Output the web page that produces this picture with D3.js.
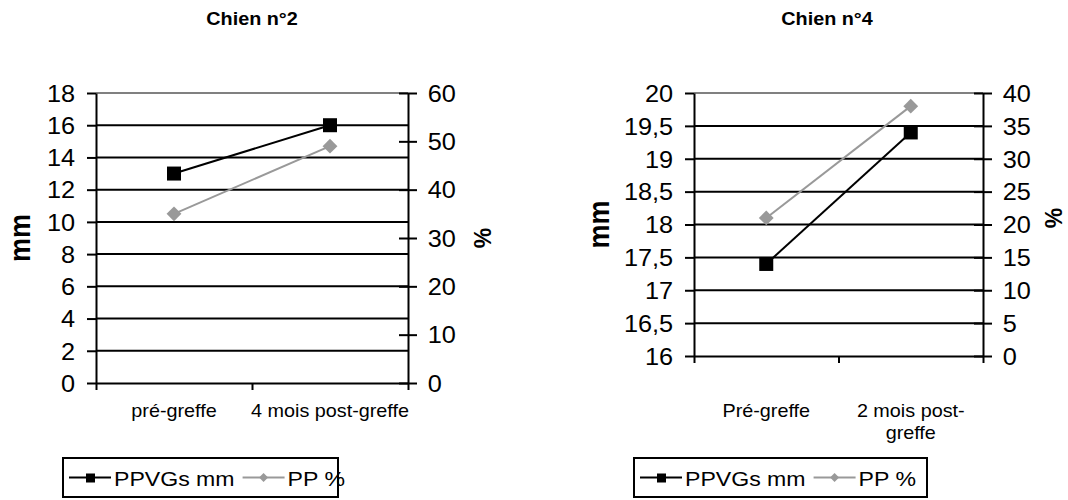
<!DOCTYPE html>
<html>
<head>
<meta charset="utf-8">
<script src="https://cdn.jsdelivr.net/npm/d3@7"></script>
<style>
  body { margin: 0; background: #fff; }
  svg { display: block; font-family: "Liberation Sans", Arial, sans-serif; }
</style>
</head>
<body>
<div id="chart"></div>
<script>
// data
const titles = ["Chien n°2", "Chien n°4"];
const seriesNames = ["PPVGs mm", "PP %"];

const cats2 = ["pré-greffe", "4 mois post-greffe"];
const ppvgs2 = [13, 16];
const pp2 = [35, 49];
const mmTicks2 = [0, 2, 4, 6, 8, 10, 12, 14, 16, 18];
const pctTicks2 = [0, 10, 20, 30, 40, 50, 60];

const cats4 = ["Pré-greffe", "2 mois post-greffe"];
const cats4Lines = [["Pré-greffe"], ["2 mois post-", "greffe"]];
const ppvgs4 = [17.4, 19.4];
const pp4 = [21, 38];
const mmTicks4 = [16, 16.5, 17, 17.5, 18, 18.5, 19, 19.5, 20];
const pctTicks4 = [0, 5, 10, 15, 20, 25, 30, 35, 40];

const SX = 1.1;           // text in the source is a bit stretched
const GRAY = "#999999";
const fmt = d => String(d).replace(".", ",");

const svg = d3.select("#chart").append("svg")
    .attr("width", 1068)
    .attr("height", 500);

function stretched(sel, x, y) {
    return sel.attr("transform", `translate(${x},${y}) scale(${SX},1)`);
}

function drawChart(cfg) {
    const g = svg.append("g");
    const { left, right, top, bottom } = cfg;

    const yL = d3.scaleLinear().domain(d3.extent(cfg.mmTicks)).range([bottom, top]);
    const yR = d3.scaleLinear().domain(d3.extent(cfg.pctTicks)).range([bottom, top]);
    const xBand = d3.scaleBand().domain(cfg.cats).range([left, right]);
    const xEdge = d3.scaleLinear().domain([0, cfg.cats.length]).range([left, right]);
    const xc = i => xBand(cfg.cats[i]) + xBand.bandwidth() / 2;

    // gridlines
    const lastTick = cfg.mmTicks[cfg.mmTicks.length - 1];
    g.append("g").selectAll("line")
        .data(cfg.mmTicks.slice(1))
        .join("line")
        .attr("x1", left).attr("x2", right)
        .attr("y1", d => yL(d)).attr("y2", d => yL(d))
        .attr("stroke", d => d === lastTick ? "#808080" : "#000")
        .attr("stroke-width", 2);

    // left axis
    const axL = g.append("g")
        .attr("transform", `translate(${left},0)`)
        .call(d3.axisLeft(yL).tickValues(cfg.mmTicks).tickSizeInner(9).tickSizeOuter(0).tickFormat(fmt));
    // right axis, ticks cross the line
    const axR = g.append("g")
        .attr("transform", `translate(${right},0)`)
        .call(d3.axisRight(yR).tickValues(cfg.pctTicks).tickSizeInner(9).tickSizeOuter(0).tickFormat(fmt));
    axR.selectAll(".tick line").attr("x1", -9).attr("x2", 9);

    // x axis: line + boundary ticks, labels under band centres
    const axX = g.append("g")
        .attr("transform", `translate(0,${bottom})`)
        .call(d3.axisBottom(xEdge).tickValues(d3.range(cfg.cats.length + 1)).tickSizeInner(7).tickSizeOuter(0).tickFormat(""));

    [axL, axR, axX].forEach(a => {
        a.select(".domain").attr("stroke", "#000").attr("stroke-width", 2);
        a.selectAll(".tick line").attr("stroke", "#000").attr("stroke-width", 2);
    });

    axL.selectAll(".tick text")
        .attr("x", -19).attr("dy", "0.36em")
        .attr("transform", `scale(${SX},1)`)
        .attr("fill", "#000").style("font-size", "23px");
    axR.selectAll(".tick text")
        .attr("x", 18).attr("dy", "0.36em")
        .attr("transform", `scale(${SX},1)`)
        .attr("fill", "#000").style("font-size", "23px");
    g.selectAll(".tick text").attr("font-family", null);

    // category labels
    cfg.catLines.forEach((lines, i) => {
        lines.forEach((ln, j) => {
            stretched(g.append("text"), xc(i), 417 + j * 22)
                .attr("text-anchor", "middle")
                .style("font-size", "18px")
                .text(ln);
        });
    });

    // title
    stretched(g.append("text"), cfg.titleX, 25)
        .attr("text-anchor", "middle")
        .style("font-size", "18px")
        .style("font-weight", "bold")
        .text(cfg.title);

    // axis titles
    g.append("text")
        .attr("transform", `translate(${cfg.mmX},${(top + bottom) / 2}) rotate(-90) scale(1,${SX})`)
        .attr("text-anchor", "middle").attr("dy", "0.35em")
        .style("font-size", "27px").style("font-weight", "bold")
        .text("mm");
    g.append("text")
        .attr("transform", `translate(${cfg.pctX},${cfg.pctY}) rotate(-90)`)
        .attr("text-anchor", "middle").attr("dy", "0.35em")
        .style("font-size", "23px").style("font-weight", "bold")
        .text("%");

    // series
    const lineL = d3.line().x((d, i) => xc(i)).y(d => yL(d));
    const lineR = d3.line().x((d, i) => xc(i)).y(d => yR(d));

    g.append("path").datum(cfg.pp)
        .attr("d", lineR).attr("fill", "none")
        .attr("stroke", GRAY).attr("stroke-width", 2);
    g.append("path").datum(cfg.mm)
        .attr("d", lineL).attr("fill", "none")
        .attr("stroke", "#000").attr("stroke-width", 2);

    g.append("g").selectAll("path")
        .data(cfg.pp)
        .join("path")
        .attr("d", d3.symbol(d3.symbolSquare, 110))
        .attr("transform", (d, i) => `translate(${xc(i)},${yR(d)}) rotate(45)`)
        .attr("fill", GRAY);
    g.append("g").selectAll("rect")
        .data(cfg.mm)
        .join("rect")
        .attr("x", (d, i) => xc(i) - 7).attr("y", d => yL(d) - 7)
        .attr("width", 14).attr("height", 14)
        .attr("fill", "#000");

    // legend
    const lg = g.append("g");
    lg.append("rect")
        .attr("x", cfg.legend[0]).attr("y", cfg.legend[1])
        .attr("width", cfg.legend[2]).attr("height", cfg.legend[3])
        .attr("fill", "#fff").attr("stroke", "#000").attr("stroke-width", 2);
    const ly = cfg.legend[1] + cfg.legend[3] / 2;
    let cx = cfg.legend[0] + 6;
    seriesNames.forEach((name, k) => {
        const col = k === 0 ? "#000" : GRAY;
        lg.append("line")
            .attr("x1", cx).attr("x2", cx + 42)
            .attr("y1", ly).attr("y2", ly)
            .attr("stroke", col).attr("stroke-width", 2);
        if (k === 0) {
            lg.append("rect").attr("x", cx + 17).attr("y", ly - 4)
                .attr("width", 9).attr("height", 9).attr("fill", col);
        } else {
            lg.append("path")
                .attr("d", d3.symbol(d3.symbolSquare, 40))
                .attr("transform", `translate(${cx + 21},${ly}) rotate(45)`)
                .attr("fill", col);
        }
        cx += 45;
        const t = stretched(lg.append("text"), cx, ly + 8)
            .style("font-size", "21px")
            .text(name);
        cx += t.node().getComputedTextLength() * SX + 8;
    });
}

drawChart({
    title: titles[0], cats: cats2, catLines: cats2.map(c => [c]),
    mm: ppvgs2, pp: pp2, mmTicks: mmTicks2, pctTicks: pctTicks2,
    left: 96, right: 408, top: 93, bottom: 383,
    titleX: 252, mmX: 20, pctX: 483, pctY: 238,
    legend: [63, 458, 275, 39]
});

drawChart({
    title: titles[1], cats: cats4, catLines: cats4Lines,
    mm: ppvgs4, pp: pp4, mmTicks: mmTicks4, pctTicks: pctTicks4,
    left: 694, right: 983, top: 93, bottom: 356,
    titleX: 827, mmX: 599, pctX: 1054, pctY: 218,
    legend: [634, 458, 293, 39]
});
</script>
</body>
</html>
